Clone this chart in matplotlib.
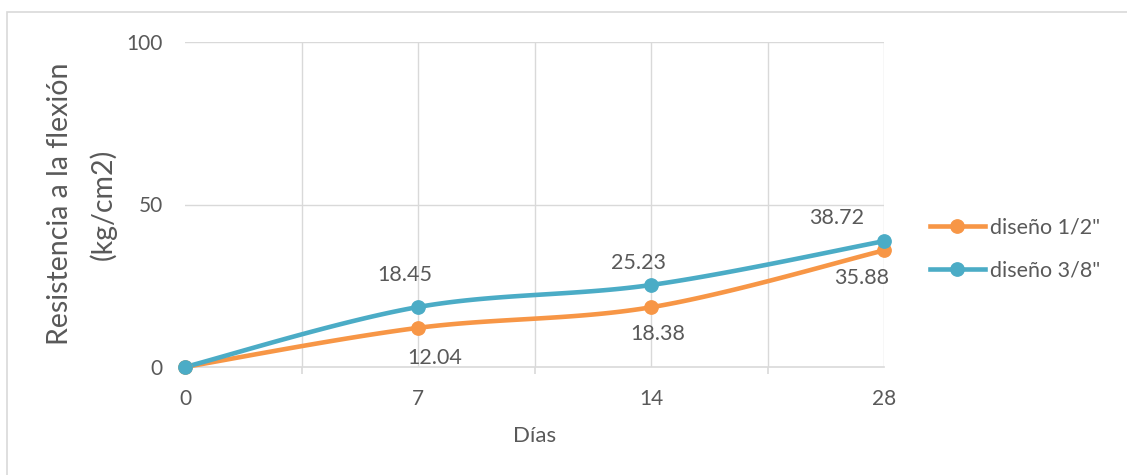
import numpy as np
import matplotlib
matplotlib.use("Agg")
import matplotlib.pyplot as plt
from matplotlib.patches import Rectangle
from matplotlib.lines import Line2D

plt.rcParams['font.family'] = ['Lato', 'DejaVu Sans']

dias = ["0", "7", "14", "28"]
diseno_12 = [0.0, 12.04, 18.38, 35.88]
diseno_38 = [0.0, 18.45, 25.23, 38.72]
series_names = ['diseño 1/2"', 'diseño 3/8"']
y_ticks = [0, 50, 100]

ORANGE = "#F79646"
BLUE = "#4BACC6"
TEXT = "#595959"
GRID = "#D9D9D9"


def smooth(xs, ys, n=40):
    """Cubic Bezier smoothing through every point (Catmull-Rom style tangents)."""
    pts = np.column_stack([xs, ys]).astype(float)
    out = []
    for i in range(len(pts) - 1):
        p0 = pts[i - 1] if i > 0 else pts[i]
        p1 = pts[i]
        p2 = pts[i + 1]
        p3 = pts[i + 2] if i + 2 < len(pts) else pts[i + 1]
        c1 = p1 + (p2 - p0) / 6.0
        c2 = p2 - (p3 - p1) / 6.0
        t = np.linspace(0, 1, n)[:, None]
        seg = ((1 - t) ** 3) * p1 + 3 * ((1 - t) ** 2) * t * c1 + 3 * (1 - t) * t ** 2 * c2 + t ** 3 * p2
        out.append(seg if i == 0 else seg[1:])
    arr = np.vstack(out)
    return arr[:, 0], arr[:, 1]


fig = plt.figure(figsize=(11.27, 4.75), dpi=100)
W, H = 1127, 475
ax = fig.add_axes([185 / W, 1 - 367 / H, (884 - 185) / W, (367 - 42) / H])

# chart border
fig.patches.append(Rectangle((7 / W, -0.01), 1.2, 1 - 12 / H + 0.01, transform=fig.transFigure,
                             fill=False, edgecolor="#D9D9D9", linewidth=1.2))

x = np.arange(len(dias))
ax.set_xlim(0, len(dias) - 1)
ax.set_ylim(0, 100)

# gridlines at categories and between them
for gx in np.arange(0.5, len(dias) - 0.5 + 0.01, 0.5):
    ax.axvline(gx, color=GRID, linewidth=1.0, zorder=0)
for gy in y_ticks[1:]:
    ax.axhline(gy, color=GRID, linewidth=1.0, zorder=0)

for s in ["top", "right", "left"]:
    ax.spines[s].set_visible(False)
ax.spines["bottom"].set_color(GRID)
ax.spines["bottom"].set_linewidth(1.2)

ax.set_xticks(x)
ax.set_xticklabels(dias)
ax.set_xticks(np.arange(0.5, len(dias) - 1, 1.0), minor=True)
ax.tick_params(axis="x", which="major", length=0, pad=16, labelsize=15, labelcolor=TEXT)
ax.tick_params(axis="x", which="minor", length=5, color=GRID, width=1.2)
ax.set_yticks(y_ticks)
ax.tick_params(axis="y", length=0, pad=16, labelsize=15, labelcolor=TEXT)

ax.set_xlabel("Días", fontsize=16, color=TEXT, labelpad=12)

# two-line y-axis title
fig.text(60 / W, 1 - 204 / H, "Resistencia a la flexión", rotation=90, fontsize=20.5,
         color=TEXT, ha="center", va="center")
fig.text(103 / W, 1 - 204 / H, "(kg/cm2)", rotation=90, fontsize=20.5,
         color=TEXT, ha="center", va="center")

for vals, col in [(diseno_12, ORANGE), (diseno_38, BLUE)]:
    sx, sy = smooth(x, vals)
    ax.plot(sx, sy, color=col, linewidth=3.3, solid_capstyle="round", zorder=3, clip_on=False)
    ax.plot(x, vals, "o", color=col, markersize=9.6, zorder=4, clip_on=False)

# value labels (offsets in pixels from each point)
lab_kw = dict(fontsize=15.5, color=TEXT, ha="center", va="center", textcoords="offset pixels")
offs_12 = [None, (17, -30), (7, -27), (-22, -28)]
offs_38 = [None, (-13, 32), (-13, 22), (-47, 23)]
for i in range(1, len(dias)):
    ax.annotate(f"{diseno_12[i]:.2f}", (x[i], diseno_12[i]), xytext=offs_12[i], **lab_kw)
    ax.annotate(f"{diseno_38[i]:.2f}", (x[i], diseno_38[i]), xytext=offs_38[i], **lab_kw)

handles = [Line2D([], [], color=ORANGE, linewidth=3.3, marker="o", markersize=9.6),
           Line2D([], [], color=BLUE, linewidth=3.3, marker="o", markersize=9.6)]
fig.legend(handles, series_names, loc="center left", bbox_to_anchor=(930 / W, 1 - 249 / H),
           frameon=False, fontsize=15.5, labelcolor=TEXT, handlelength=2.55, handletextpad=0.25,
           labelspacing=1.1, borderaxespad=0, borderpad=0)

fig.savefig("out.png", dpi=100)
